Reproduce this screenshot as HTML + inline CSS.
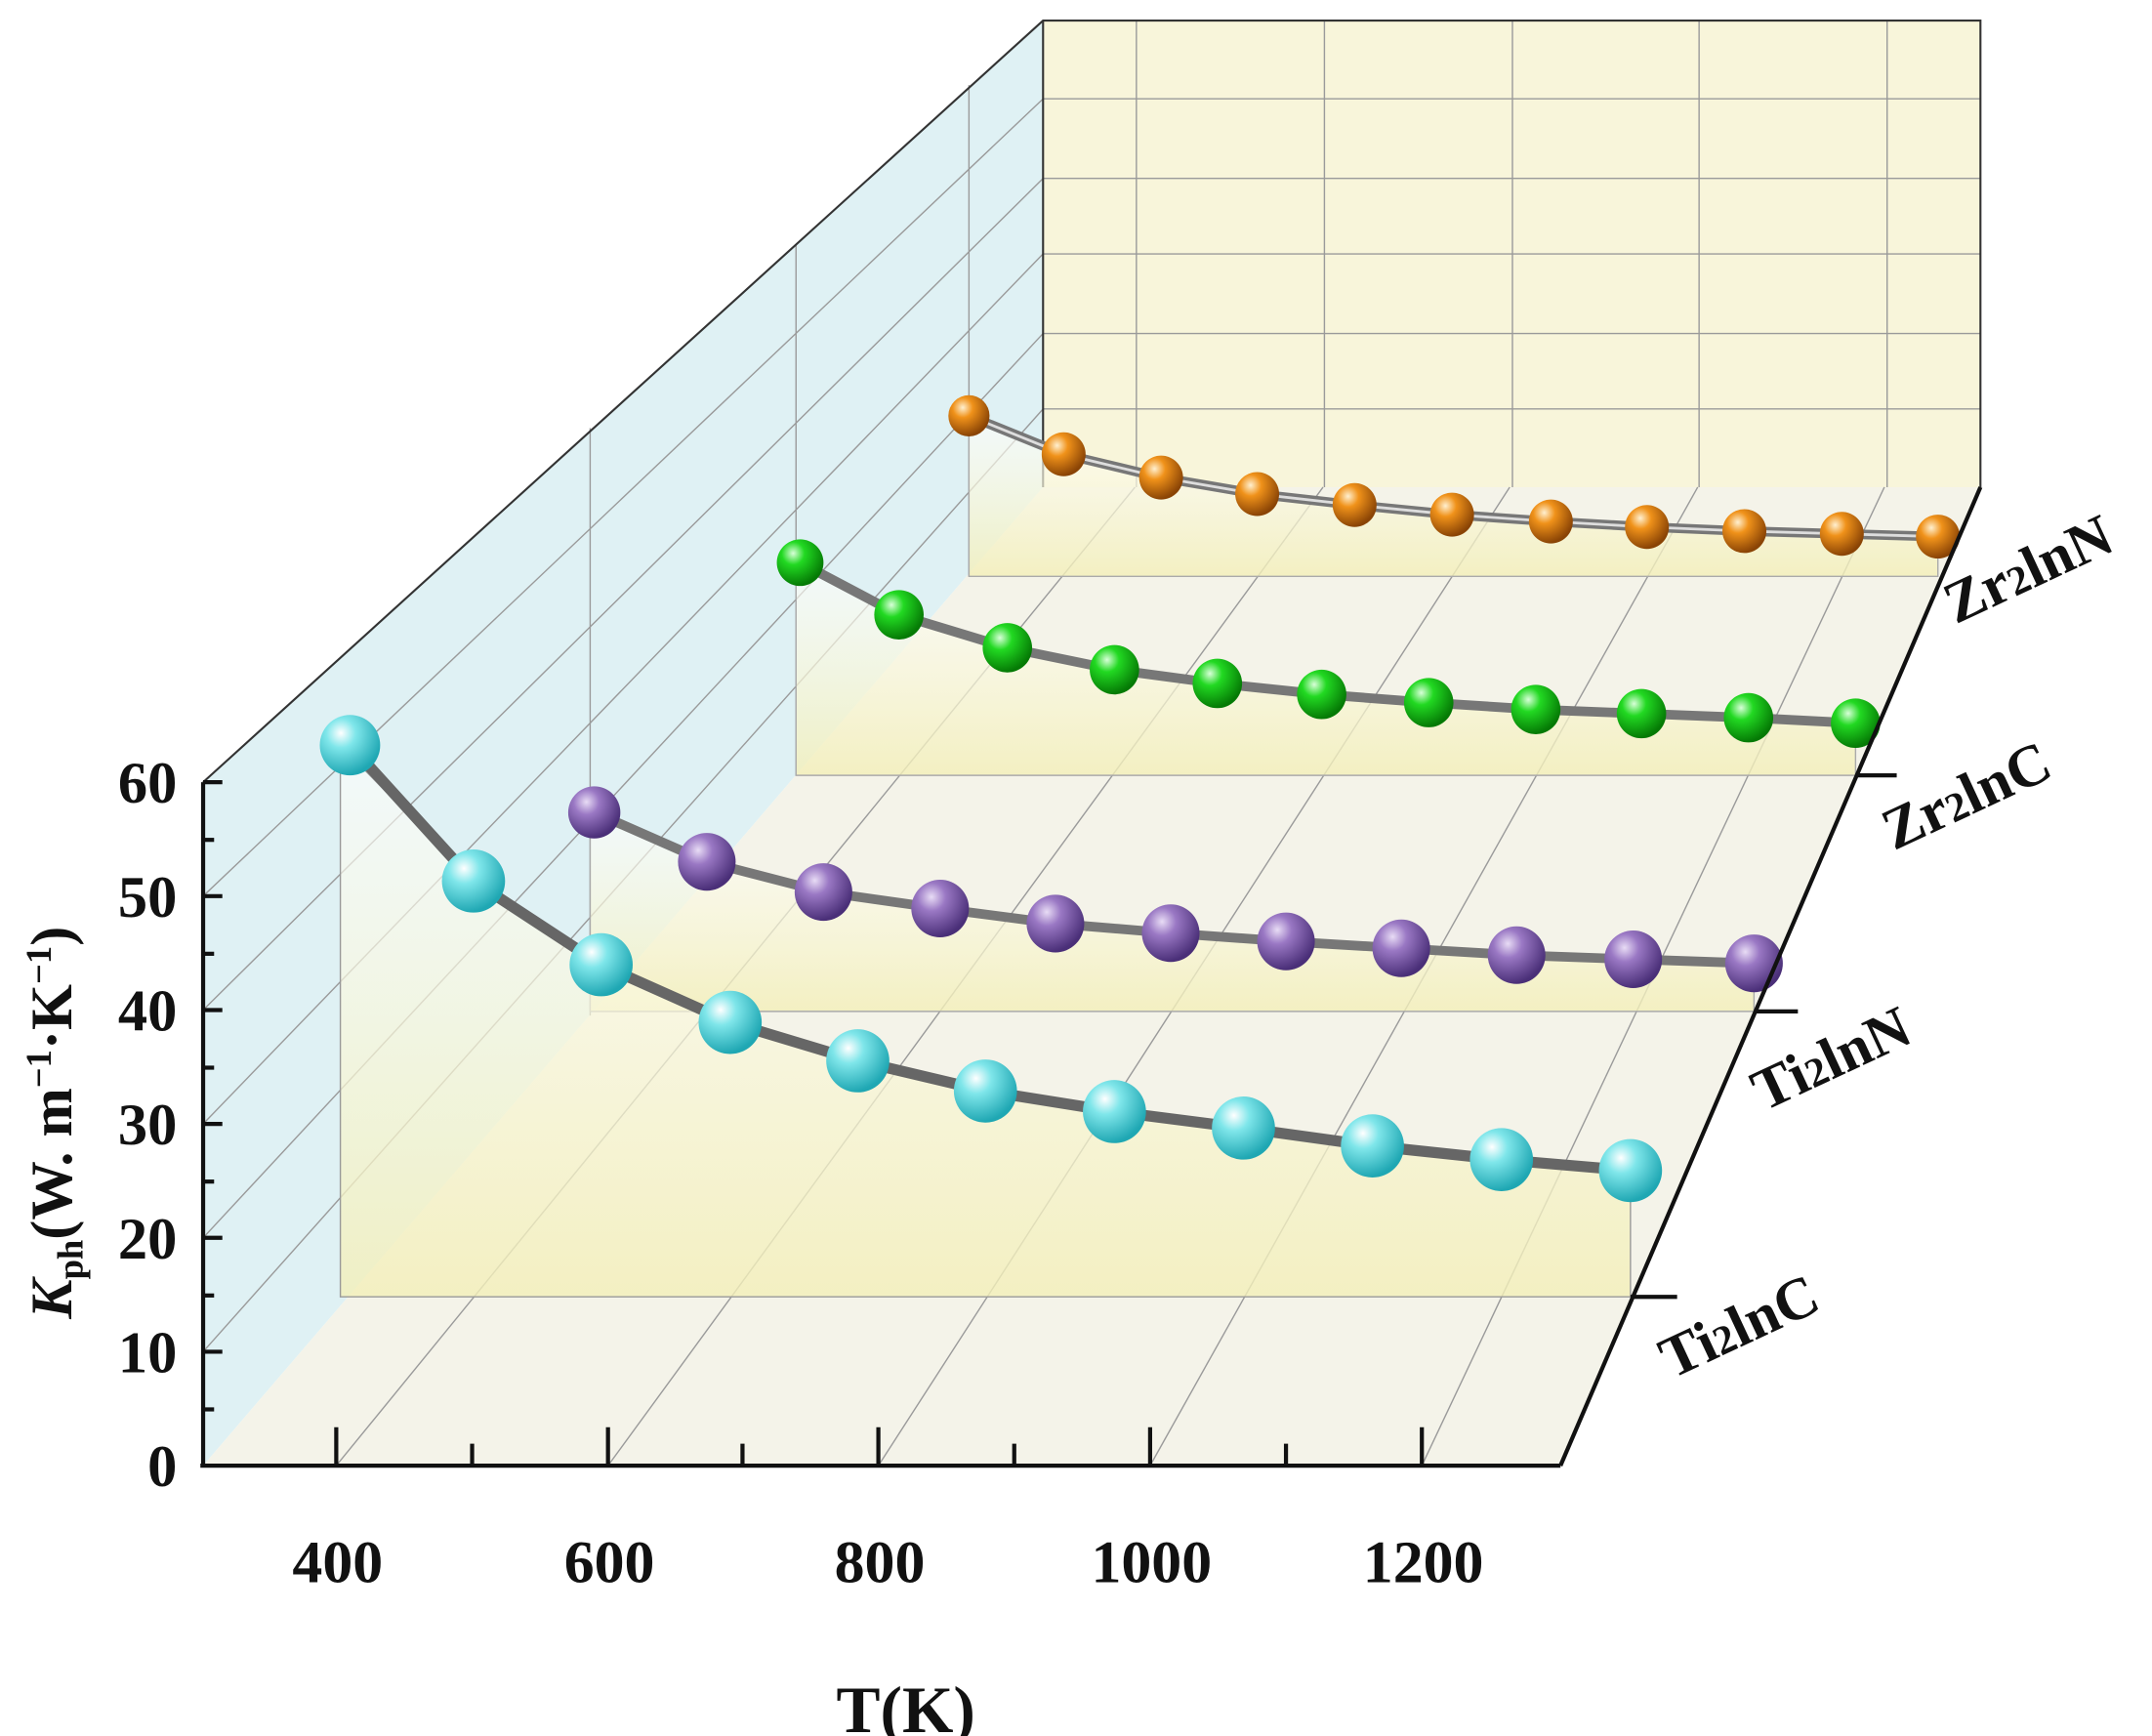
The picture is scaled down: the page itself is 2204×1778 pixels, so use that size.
<!DOCTYPE html>
<html><head><meta charset="utf-8"><style>
html,body{margin:0;padding:0;background:#fff;}
svg{display:block;font-family:"Liberation Serif",serif;font-weight:bold;}
</style></head><body>
<svg width="2204" height="1778" viewBox="0 0 1568 1265" preserveAspectRatio="none" xmlns="http://www.w3.org/2000/svg">
<defs>
<radialGradient id="cy" cx="35%" cy="30%" r="70%"><stop offset="0" stop-color="#ffffff"/><stop offset="0.35" stop-color="#7fe6ea"/><stop offset="1" stop-color="#1fa7b3"/></radialGradient>
<radialGradient id="pu" cx="35%" cy="30%" r="70%"><stop offset="0" stop-color="#e8dcf5"/><stop offset="0.35" stop-color="#9a78c4"/><stop offset="1" stop-color="#4a2f78"/></radialGradient>
<radialGradient id="gr" cx="35%" cy="30%" r="70%"><stop offset="0" stop-color="#d8ffd8"/><stop offset="0.35" stop-color="#22d922"/><stop offset="1" stop-color="#057a05"/></radialGradient>
<radialGradient id="or" cx="35%" cy="30%" r="70%"><stop offset="0" stop-color="#fff0d0"/><stop offset="0.35" stop-color="#f0921a"/><stop offset="1" stop-color="#8a4405"/></radialGradient>
<linearGradient id="pf" x1="0" y1="0" x2="0" y2="1"><stop offset="0" stop-color="#ffffff" stop-opacity="0.6"/><stop offset="1" stop-color="#f3efb8" stop-opacity="0.8"/></linearGradient>
</defs>
<polygon points="148,570 760,15 760,355 148,1068" fill="#dff1f4"/>
<polygon points="760,15 1443,15 1443,355 760,355" fill="#f8f5da"/>
<polygon points="148,1068 760,355 1443,355 1137,1068" fill="#f4f3e9"/>
<g stroke="#9a9a9a" stroke-width="1" fill="none">
<line x1="828" y1="15" x2="828" y2="355"/><line x1="965" y1="15" x2="965" y2="355"/><line x1="1102" y1="15" x2="1102" y2="355"/><line x1="1238" y1="15" x2="1238" y2="355"/><line x1="1375" y1="15" x2="1375" y2="355"/>
<line x1="760" y1="72" x2="1443" y2="72"/><line x1="760" y1="130" x2="1443" y2="130"/><line x1="760" y1="185" x2="1443" y2="185"/><line x1="760" y1="243" x2="1443" y2="243"/><line x1="760" y1="298" x2="1443" y2="298"/>
<line x1="245" y1="1068" x2="827" y2="355"/><line x1="443" y1="1068" x2="964" y2="355"/><line x1="640" y1="1068" x2="1100" y2="355"/><line x1="838" y1="1068" x2="1237" y2="355"/><line x1="1036" y1="1068" x2="1373" y2="355"/>
<line x1="148" y1="985" x2="760" y2="298"/><line x1="148" y1="902" x2="760" y2="243"/><line x1="148" y1="819" x2="760" y2="185"/><line x1="148" y1="736" x2="760" y2="130"/><line x1="148" y1="653" x2="760" y2="72"/>
<line x1="430" y1="312" x2="430" y2="740"/><line x1="580" y1="178" x2="580" y2="565"/><line x1="706" y1="62" x2="706" y2="420"/>
</g>
<g stroke="#333" stroke-width="1.5" fill="none">
<polyline points="148,570 760,15 1443,15 1443,355"/>
<line x1="760" y1="15" x2="760" y2="355"/>
</g>
<polygon points="706,303 775,331 846,348 916,360 987,368 1058,375 1130,380 1200,384 1271,387 1342,389 1412,391 1412,420 706,420" fill="url(#pf)" stroke="#aaa"/>
<polyline points="706,303 775,331 846,348 916,360 987,368 1058,375 1130,380 1200,384 1271,387 1342,389 1412,391" fill="none" stroke="#777" stroke-width="7"/>
<polyline points="706,303 775,331 846,348 916,360 987,368 1058,375 1130,380 1200,384 1271,387 1342,389 1412,391" fill="none" stroke="#ddd" stroke-width="2"/>
<g fill="url(#or)"><circle cx="706" cy="303" r="15"/><circle cx="775" cy="331" r="16"/><circle cx="846" cy="348" r="16"/><circle cx="916" cy="360" r="16"/><circle cx="987" cy="368" r="16"/><circle cx="1058" cy="375" r="16"/><circle cx="1130" cy="380" r="16"/><circle cx="1200" cy="384" r="16"/><circle cx="1271" cy="387" r="16"/><circle cx="1342" cy="389" r="16"/><circle cx="1412" cy="391" r="16"/></g>
<polygon points="580,410 655,448 734,472 812,488 887,498 963,506 1041,512 1119,517 1196,520 1274,523 1352,527 1352,565 580,565" fill="url(#pf)" stroke="#aaa"/>
<polyline points="583,410 655,448 734,472 812,488 887,498 963,506 1041,512 1119,517 1196,520 1274,523 1352,527" fill="none" stroke="#777" stroke-width="7"/>
<g fill="url(#gr)"><circle cx="583" cy="410" r="17"/><circle cx="655" cy="448" r="18"/><circle cx="734" cy="472" r="18"/><circle cx="812" cy="488" r="18"/><circle cx="887" cy="498" r="18"/><circle cx="963" cy="506" r="18"/><circle cx="1041" cy="512" r="18"/><circle cx="1119" cy="517" r="18"/><circle cx="1196" cy="520" r="18"/><circle cx="1274" cy="523" r="18"/><circle cx="1352" cy="527" r="18"/></g>
<line x1="1352" y1="565" x2="1382" y2="565" stroke="#111" stroke-width="3"/>
<polygon points="430,592 515,628 600,650 685,662 769,673 853,680 937,686 1021,691 1105,696 1190,699 1278,702 1278,737 430,737" fill="url(#pf)" stroke="#aaa"/>
<polyline points="433,592 515,628 600,650 685,662 769,673 853,680 937,686 1021,691 1105,696 1190,699 1278,702" fill="none" stroke="#777" stroke-width="7"/>
<g fill="url(#pu)"><circle cx="433" cy="592" r="19"/><circle cx="515" cy="628" r="21"/><circle cx="600" cy="650" r="21"/><circle cx="685" cy="662" r="21"/><circle cx="769" cy="673" r="21"/><circle cx="853" cy="680" r="21"/><circle cx="937" cy="686" r="21"/><circle cx="1021" cy="691" r="21"/><circle cx="1105" cy="696" r="21"/><circle cx="1190" cy="699" r="21"/><circle cx="1278" cy="702" r="21"/></g>
<line x1="1278" y1="737" x2="1310" y2="737" stroke="#111" stroke-width="3"/>
<polygon points="248,543 345,642 438,703 532,745 625,773 718,795 812,810 906,822 1000,835 1094,845 1188,853 1188,945 248,945" fill="url(#pf)" stroke="#999"/>
<polyline points="255,543 345,642 438,703 532,745 625,773 718,795 812,810 906,822 1000,835 1094,845 1188,853" fill="none" stroke="#666" stroke-width="8"/>
<g fill="url(#cy)"><circle cx="255" cy="543" r="22"/><circle cx="345" cy="642" r="23"/><circle cx="438" cy="703" r="23"/><circle cx="532" cy="745" r="23"/><circle cx="625" cy="773" r="23"/><circle cx="718" cy="795" r="23"/><circle cx="812" cy="810" r="23"/><circle cx="906" cy="822" r="23"/><circle cx="1000" cy="835" r="23"/><circle cx="1094" cy="845" r="23"/><circle cx="1188" cy="853" r="23"/></g>
<line x1="1188" y1="945" x2="1222" y2="945" stroke="#111" stroke-width="3"/>
<g stroke="#111" stroke-width="3" fill="none">
<line x1="148" y1="570" x2="148" y2="1068"/>
<line x1="146" y1="1068" x2="1137" y2="1068"/>
<line x1="1137" y1="1068" x2="1443" y2="355"/>
<line x1="148" y1="570" x2="162" y2="570"/><line x1="148" y1="653" x2="162" y2="653"/><line x1="148" y1="736" x2="162" y2="736"/><line x1="148" y1="819" x2="162" y2="819"/><line x1="148" y1="902" x2="162" y2="902"/><line x1="148" y1="985" x2="162" y2="985"/>
<line x1="148" y1="612" x2="156" y2="612"/><line x1="148" y1="695" x2="156" y2="695"/><line x1="148" y1="778" x2="156" y2="778"/><line x1="148" y1="861" x2="156" y2="861"/><line x1="148" y1="944" x2="156" y2="944"/><line x1="148" y1="1027" x2="156" y2="1027"/>
<line x1="245" y1="1068" x2="245" y2="1040"/><line x1="443" y1="1068" x2="443" y2="1040"/><line x1="640" y1="1068" x2="640" y2="1040"/><line x1="838" y1="1068" x2="838" y2="1040"/><line x1="1036" y1="1068" x2="1036" y2="1040"/>
<line x1="344" y1="1068" x2="344" y2="1052"/><line x1="541" y1="1068" x2="541" y2="1052"/><line x1="739" y1="1068" x2="739" y2="1052"/><line x1="937" y1="1068" x2="937" y2="1052"/>
</g>
<g font-size="43" fill="#111" text-anchor="end">
<text x="129" y="585">60</text><text x="129" y="668">50</text><text x="129" y="751">40</text><text x="129" y="834">30</text><text x="129" y="917">20</text><text x="129" y="1000">10</text><text x="129" y="1083">0</text>
</g>
<g font-size="44" fill="#111" text-anchor="middle">
<text x="246" y="1153">400</text><text x="444" y="1153">600</text><text x="641" y="1153">800</text><text x="839" y="1153">1000</text><text x="1037" y="1153">1200</text>
<text x="660" y="1262" font-size="48">T(K)</text>
</g>
<text transform="translate(52,818) rotate(-90)" font-size="43" fill="#111" text-anchor="middle"><tspan font-style="italic">K</tspan><tspan font-size="26" dy="8">ph</tspan><tspan dy="-8">(W. m</tspan><tspan font-size="26" dy="-15">−1</tspan><tspan dy="15">·K</tspan><tspan font-size="26" dy="-15">−1</tspan><tspan dy="15">)</tspan></text>
<g font-size="43" fill="#111">
<text transform="translate(1218,1005) rotate(-25)">Ti<tspan font-size="30">2</tspan>lnC</text>
<text transform="translate(1285,810) rotate(-25)">Ti<tspan font-size="30">2</tspan>lnN</text>
<text transform="translate(1380,620) rotate(-25)">Zr<tspan font-size="30">2</tspan>lnC</text>
<text transform="translate(1425,455) rotate(-25)">Zr<tspan font-size="30">2</tspan>lnN</text>
</g>
</svg>
</body></html>
